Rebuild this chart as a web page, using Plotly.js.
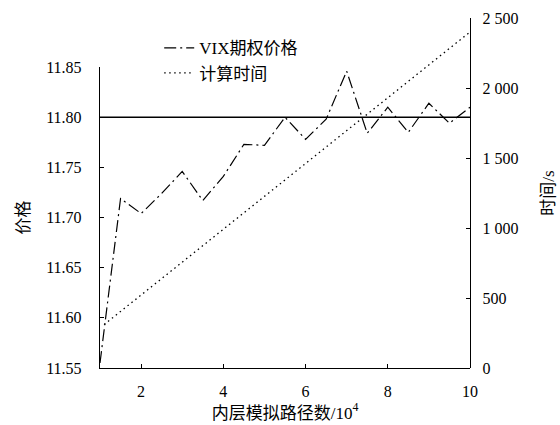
<!DOCTYPE html>
<html>
<head>
<meta charset="utf-8">
<script src="https://cdn.plot.ly/plotly-3.0.1.min.js"></script>
<style>html,body{margin:0;padding:0;background:#fff;}#chart{width:560px;height:425px;}</style>
</head>
<body>
<div id="chart"></div>
<script>
// Inner simulation paths (x 10^4)
const paths = [1, 1.5, 2, 2.5, 3, 3.5, 4, 4.5, 5, 5.5, 6, 6.5, 7, 7.5, 8, 8.5, 9, 9.5, 10];
// VIX option price
const vixPrice = [11.555, 11.719, 11.704, 11.724, 11.746, 11.717, 11.741, 11.773, 11.772, 11.800,
                  11.778, 11.798, 11.846, 11.784, 11.810, 11.785, 11.814, 11.794, 11.810];
// Computation time (s)
const timePathsX = [1.1, 10];
const computeTime = [310, 2400];
// Benchmark price line
const benchX = [1, 10];
const benchPrice = [11.80, 11.80];

const leftTicks = [11.55, 11.60, 11.65, 11.70, 11.75, 11.80, 11.85];
const rightTicks = [0, 500, 1000, 1500, 2000, 2500];
const rightTickText = ['0', '500', '1 000', '1 500', '2 000', '2 500'];
const xTicks = [2, 4, 6, 8, 10];

const serif = 'Liberation Serif';
const cjk = 'Liberation Serif, Noto Sans CJK SC';

const traces = [
  {x: paths, y: vixPrice, name: 'VIX期权价格', type: 'scatter', mode: 'lines',
   line: {color: '#000', width: 1.2, dash: '12px,4px,2px,4px'}, xaxis: 'x', yaxis: 'y'},
  {x: timePathsX, y: computeTime, name: '计算时间', type: 'scatter', mode: 'lines',
   line: {color: '#000', width: 1.3, dash: '1.5px,3.5px'}, xaxis: 'x', yaxis: 'y2'},
  {x: benchX, y: benchPrice, showlegend: false, type: 'scatter', mode: 'lines',
   line: {color: '#000', width: 1.5}, xaxis: 'x', yaxis: 'y', hoverinfo: 'skip'}
];

const layout = {
  width: 560, height: 425,
  margin: {l: 100, r: 90, t: 18, b: 57},
  paper_bgcolor: '#fff', plot_bgcolor: 'rgba(0,0,0,0)',
  font: {family: serif, size: 16, color: '#000'},
  showlegend: true,
  legend: {x: 0.16, y: 0.965, xanchor: 'left', yanchor: 'top', bgcolor: 'rgba(0,0,0,0)',
           font: {family: cjk, size: 17, color: '#000'}, itemwidth: 30, tracegroupgap: 0},
  xaxis: {range: [1, 10], domain: [0, 1], anchor: 'y', tickvals: xTicks, ticks: 'inside', ticklen: 4,
          tickcolor: '#000', showline: true, linecolor: '#000', linewidth: 1.2, showgrid: false,
          zeroline: false, ticklabelstandoff: 9, tickfont: {family: serif, size: 16, color: '#000'},
          title: {text: '内层模拟路径数/10<sup>4</sup>', font: {family: cjk, size: 17, color: '#000'}, standoff: 5}},
  yaxis: {range: [11.55, 11.85], domain: [0, 0.8597], anchor: 'x', tickvals: leftTicks, tickformat: '.2f',
          ticks: 'inside', ticklen: 4, tickcolor: '#000', showline: true, linecolor: '#000', linewidth: 1.2,
          showgrid: false, zeroline: false, ticklabelstandoff: 14, tickfont: {family: serif, size: 16, color: '#000'},
          title: {text: '价格', font: {family: cjk, size: 17, color: '#000'}, standoff: 12}},
  yaxis2: {range: [0, 2500], domain: [0, 1], anchor: 'x', side: 'right', tickvals: rightTicks,
           ticktext: rightTickText, ticks: 'inside', ticklen: 4, tickcolor: '#000', showline: true,
           linecolor: '#000', linewidth: 1.2, showgrid: false, zeroline: false, ticklabelstandoff: 8,
           tickfont: {family: serif, size: 16, color: '#000'},
           title: {text: '时间/s', font: {family: cjk, size: 17, color: '#000'}, standoff: 24}}
};

Plotly.newPlot('chart', traces, layout, {staticPlot: true, displayModeBar: false});
</script>
</body>
</html>
